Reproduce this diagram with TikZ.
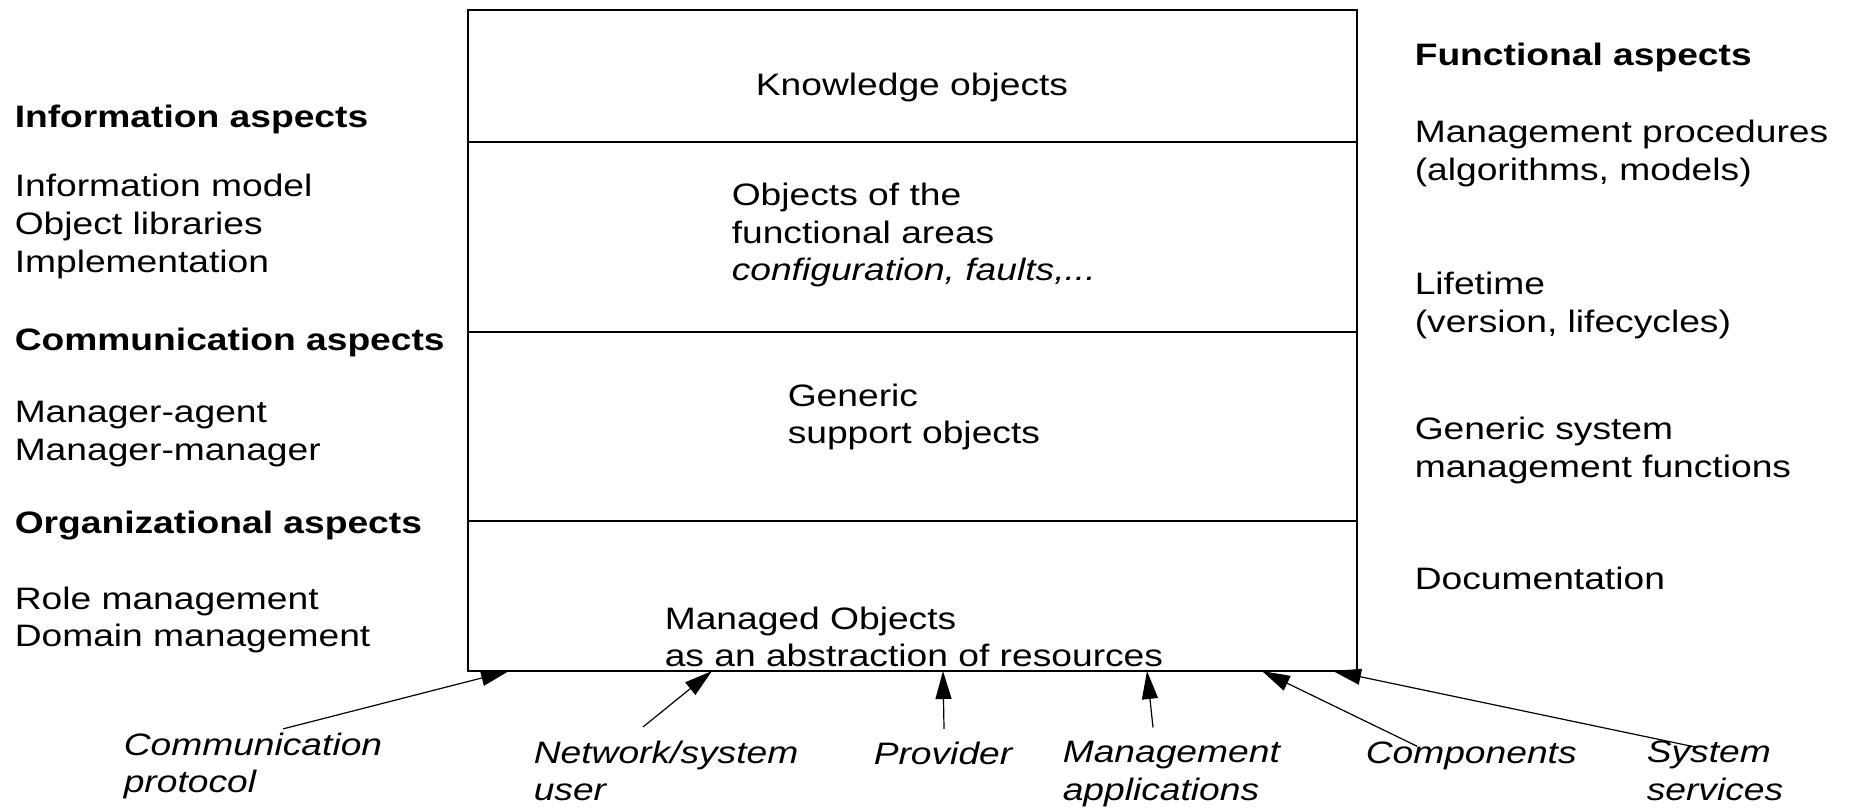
\documentclass[tikz,border=0pt]{standalone}
\usepackage{fontspec}
\setmainfont[FakeStretch=1.2]{Liberation Sans}
\usetikzlibrary{arrows.meta,calc}

\tikzset{every picture/.style={line width=0.75pt}}
\tikzset{
  txt/.style={anchor=west, inner sep=0pt, align=left, font=\fontsize{15.5}{18.9}\selectfont},
  head/.style={txt, font=\fontsize{15.5}{18.9}\selectfont\bfseries},
  src/.style={txt, font=\fontsize{15.5}{18.9}\selectfont\itshape},
  arr/.style={line width=0.6pt, -{Triangle[length=14pt,width=8pt]}},
}

\begin{document}
\begin{tikzpicture}[x=0.5pt,y=0.5pt,yscale=-1]
	\useasboundingbox (0,0) rectangle (1850,809);

	%Shape: Rectangle [layered object stack]
	\draw [line width=1pt] (468,10) rectangle (1357,671) ;
	%Straight Lines [layer borders]
	\draw [line width=1pt] (468,142) -- (1357,142) ;
	\draw [line width=1pt] (468,332) -- (1357,332) ;
	\draw [line width=1pt] (468,521) -- (1357,521) ;

	% Text Node
	\node [txt, anchor=center] (know) at (912,87) {Knowledge objects};
	% Text Node
	\node [txt] (areas) at (731,235) {Objects of the\\functional areas\\\textit{configuration, faults,...}};
	% Text Node
	\node [txt] (generic) at (787,417) {Generic\\support objects};
	% Text Node
	\node [txt] (managed) at (664,637) {Managed Objects\\as an abstraction of resources};

	% Text Node
	\node [head] (infohead) at (14,119) {Information aspects};
	% Text Node
	\node [txt] (infotext) at (14,226.5) {Information model\\Object libraries\\Implementation};
	% Text Node
	\node [head] (commhead) at (14,342) {Communication aspects};
	% Text Node
	\node [txt] (commtext) at (14,434) {Manager-agent\\Manager-manager};
	% Text Node
	\node [head] (orghead) at (14,526) {Organizational aspects};
	% Text Node
	\node [txt] (orgtext) at (14,620) {Role management\\Domain management};

	% Text Node
	\node [head] (funchead) at (1414,57) {Functional aspects};
	% Text Node
	\node [txt] (proctext) at (1414,153.5) {Management procedures\\(algorithms, models)};
	% Text Node
	\node [txt] (lifetext) at (1414,305.5) {Lifetime\\(version, lifecycles)};
	% Text Node
	\node [txt] (gentext) at (1414,450.5) {Generic system\\management functions};
	% Text Node
	\node [txt] (doctext) at (1414,578) {Documentation};

	% Text Node
	\node [src] (commprot) at (123,766) {Communication\\protocol};
	% Text Node
	\node [src] (netuser) at (533,771) {Network/system\\user};
	% Text Node
	\node [src] (provider) at (873,753) {Provider};
	% Text Node
	\node [src] (mgmtapp) at (1062,774) {Management\\applications};
	% Text Node
	\node [src] (components) at (1365,756) {Components};
	% Text Node
	\node [src] (sysserv) at (1646,771) {System\\services};

	% arrow tips on the lower edge of the stack
	\coordinate (in1) at (509,671);
	\coordinate (in2) at (712,671);
	\coordinate (in3) at (943,671);
	\coordinate (in4) at (1147,671);
	\coordinate (in5) at (1262,671);
	\coordinate (in6) at (1333,671);

	%Straight Lines
	\draw [arr] ($(commprot.north west)+(160,-3)$) -- (in1) ;
	\draw [arr] ($(netuser.north west)+(110,-13)$) -- (in2) ;
	\draw [arr] ($(provider.north west)+(71,-12)$) -- (in3) ;
	\draw [arr] ($(mgmtapp.north west)+(91,-13)$) -- (in4) ;
	\draw [arr] ($(components.north west)+(52,5)$) -- (in5) ;
	\draw [arr] ($(sysserv.north west)+(51,7)$) -- (in6) ;

\end{tikzpicture}
\end{document}
